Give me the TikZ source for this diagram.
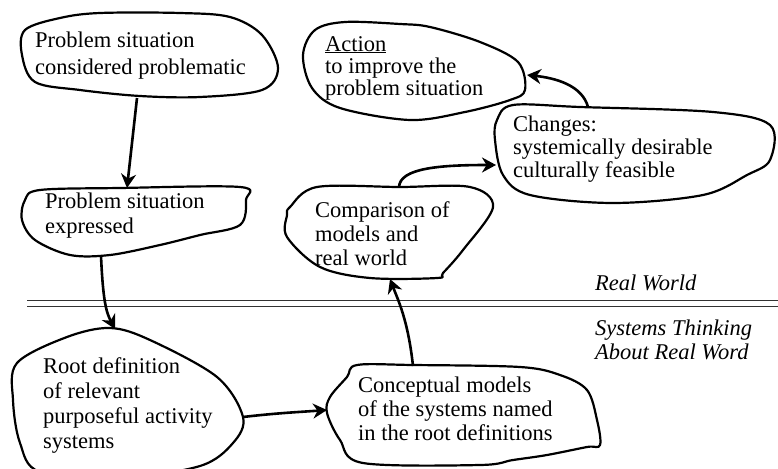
\documentclass[tikz,border=0pt]{standalone}
\usepackage{fontspec}
\setmainfont{Liberation Serif}
\usetikzlibrary{arrows.meta}

\tikzset{
  blob/.style={line width=2.2pt, line join=round},
  lbl/.style={anchor=west, align=left, inner sep=0pt, font=\fontsize{22.5}{25}\selectfont},
  band/.style={anchor=west, align=left, inner sep=0pt, font=\fontsize{22.5}{24}\selectfont\itshape},
  arr/.style={line width=2.6pt, -{Stealth[length=14pt,width=15pt]}}
}

\begin{document}
\begin{tikzpicture}[x=1pt,y=-1pt]
\useasboundingbox (0,0) rectangle (778,468);
\clip (0,0) rectangle (778,468);
% outlines of the blobs
\draw[blob] plot[smooth cycle, tension=0.55] coordinates {(25,30) (60,18) (100,13) (180,13) (230,17) (262,35) (278,68) (262,90) (200,97) (140,96) (80,90) (35,82) (22,55)};
\draw[blob] plot[smooth cycle, tension=0.55] coordinates {(303,55) (315,30) (345,22) (400,24) (430,27) (480,42) (518,62) (525,90) (510,100) (465,112) (410,120) (340,108) (312,88)};
\draw[blob] plot[smooth cycle, tension=0.55] coordinates {(497,120) (513,105) (580,107) (713,112) (770,125) (770,160) (747,175) (703,195) (613,203) (530,195) (503,175) (495,140)};
\draw[blob] plot[smooth cycle, tension=0.55] coordinates {(25,200) (40,190) (120,188) (240,187) (246,200) (240,225) (200,235) (160,245) (110,255) (70,255) (35,240) (22,220)};
\draw[blob] plot[smooth cycle, tension=0.55] coordinates {(290,207) (317,187) (400,187) (470,187) (493,207) (463,250) (443,273) (437,278) (370,278) (320,267) (287,237) (287,215)};
\draw[blob] plot[smooth cycle, tension=0.55] coordinates {(110,328) (67,337) (17,363) (13,400) (20,443) (40,472) (120,478) (200,466) (233,443) (243,417) (217,377) (150,340)};
\draw[blob] plot[smooth cycle, tension=0.55] coordinates {(357,365) (413,365) (520,367) (560,375) (587,390) (597,420) (600,445) (587,447) (547,455) (513,460) (480,465) (363,463) (340,440) (327,413) (330,397) (347,377)};

% texts
\node[lbl, font=\fontsize{22.5}{27}\selectfont] (p1) at (35,56) {Problem situation\\considered problematic};
\node[lbl, font=\fontsize{22.5}{22}\selectfont] (act) at (325,68) {\underline{Action}\\to improve the\\problem situation};
\node[lbl, font=\fontsize{22.5}{23}\selectfont] (chg) at (513,149) {Changes:\\systemically desirable\\culturally feasible};
\node[lbl] (p2) at (45,216) {Problem situation\\expressed};
\node[lbl, font=\fontsize{22.5}{24}\selectfont] (cmp) at (315,234) {Comparison of\\models and\\real world};
\node[lbl] (rd) at (43,406) {Root definition\\of relevant\\purposeful activity\\systems};
\node[lbl, font=\fontsize{22.5}{24}\selectfont] (cm) at (358,409) {Conceptual models\\of the systems named\\in the root definitions};
\node[band] (real) at (595,283) {Real World};
\node[band] (sys) at (595,340) {Systems Thinking\\About Real Word};

% the border between the two worlds
\draw[line width=1.4pt, black!80] (27,300.5) -- (778,300.5);
\draw[line width=1.4pt, black!80] (27,306.5) -- (778,306.5);

% ends of the connectors
\coordinate (p1-s) at (137,98);
\coordinate (p2-n) at (127,188);
\coordinate (p2-s) at (101,256);
\coordinate (rd-n) at (115,329);
\coordinate (rd-e) at (243,417);
\coordinate (cm-w) at (327,410);
\coordinate (cm-n) at (413,366);
\coordinate (cmp-s) at (390,279);
\coordinate (cmp-n) at (399,187);
\coordinate (chg-w) at (496,165);
\coordinate (chg-n) at (588,107);
\coordinate (act-e) at (527,75);

% connectors
\draw[arr] (p1-s) -- (p2-n);
\draw[arr] (p2-s) .. controls (103,300) and (106,312) .. (rd-n);
\draw[arr] (rd-e) .. controls (277,413) and (300,412) .. (cm-w);
\draw[arr] (cm-n) .. controls (408,320) and (398,300) .. (cmp-s);
\draw[arr] (cmp-n) .. controls (400,168) and (440,165) .. (chg-w);
\draw[arr] (chg-n) .. controls (582,85) and (555,78) .. (act-e);
\end{tikzpicture}
\end{document}
